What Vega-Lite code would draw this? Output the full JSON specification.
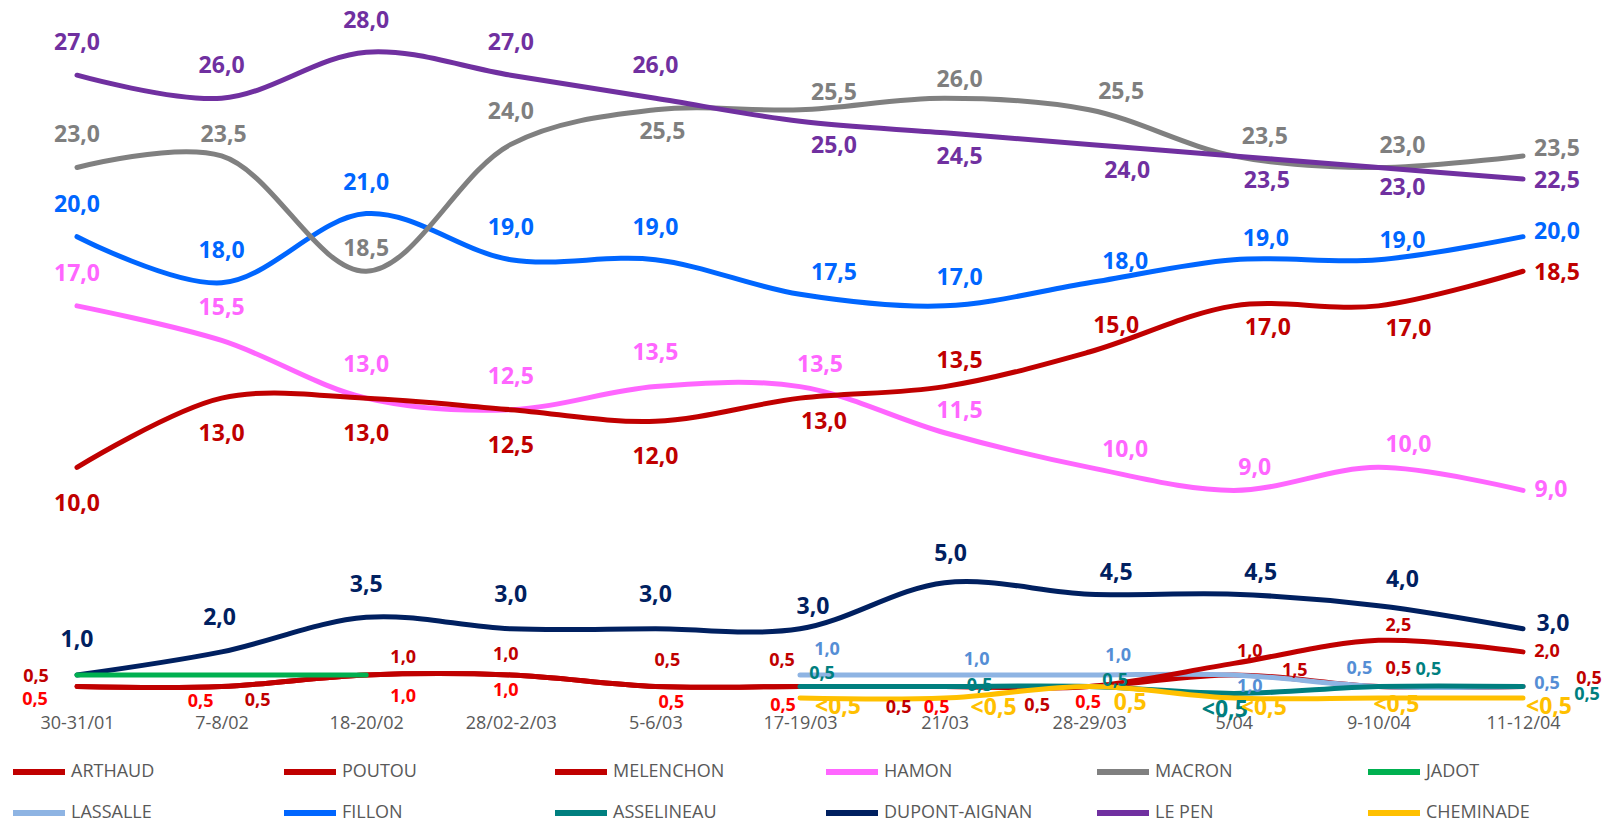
{
  "$schema": "https://vega.github.io/schema/vega-lite/v6.json",
  "width": 1600,
  "height": 692,
  "autosize": {"type": "none"},
  "padding": {"left": 0, "right": 14, "top": 6, "bottom": 120},
  "background": "white",
  "config": {"view": {"stroke": null}, "font": "Open Sans"},
  "data": {"values": [
    {"date": "30-31/01", "serie": "FILLON", "value": 20, "label": "20,0"},
    {"date": "7-8/02", "serie": "FILLON", "value": 18, "label": "18,0"},
    {"date": "18-20/02", "serie": "FILLON", "value": 21, "label": "21,0"},
    {"date": "28/02-2/03", "serie": "FILLON", "value": 19, "label": "19,0"},
    {"date": "5-6/03", "serie": "FILLON", "value": 19, "label": "19,0"},
    {"date": "17-19/03", "serie": "FILLON", "value": 17.5, "label": "17,5"},
    {"date": "21/03", "serie": "FILLON", "value": 17, "label": "17,0"},
    {"date": "28-29/03", "serie": "FILLON", "value": 18, "label": "18,0"},
    {"date": "5/04", "serie": "FILLON", "value": 19, "label": "19,0"},
    {"date": "9-10/04", "serie": "FILLON", "value": 19, "label": "19,0"},
    {"date": "11-12/04", "serie": "FILLON", "value": 20, "label": "20,0"},

    {"date": "30-31/01", "serie": "MACRON", "value": 23, "label": "23,0"},
    {"date": "7-8/02", "serie": "MACRON", "value": 23.5, "label": "23,5"},
    {"date": "18-20/02", "serie": "MACRON", "value": 18.5, "label": "18,5"},
    {"date": "28/02-2/03", "serie": "MACRON", "value": 24, "label": "24,0"},
    {"date": "5-6/03", "serie": "MACRON", "value": 25.5, "label": "25,5"},
    {"date": "17-19/03", "serie": "MACRON", "value": 25.5, "label": "25,5"},
    {"date": "21/03", "serie": "MACRON", "value": 26, "label": "26,0"},
    {"date": "28-29/03", "serie": "MACRON", "value": 25.5, "label": "25,5"},
    {"date": "5/04", "serie": "MACRON", "value": 23.5, "label": "23,5"},
    {"date": "9-10/04", "serie": "MACRON", "value": 23, "label": "23,0"},
    {"date": "11-12/04", "serie": "MACRON", "value": 23.5, "label": "23,5"},

    {"date": "30-31/01", "serie": "LE PEN", "value": 27, "label": "27,0"},
    {"date": "7-8/02", "serie": "LE PEN", "value": 26, "label": "26,0"},
    {"date": "18-20/02", "serie": "LE PEN", "value": 28, "label": "28,0"},
    {"date": "28/02-2/03", "serie": "LE PEN", "value": 27, "label": "27,0"},
    {"date": "5-6/03", "serie": "LE PEN", "value": 26, "label": "26,0"},
    {"date": "17-19/03", "serie": "LE PEN", "value": 25, "label": "25,0"},
    {"date": "21/03", "serie": "LE PEN", "value": 24.5, "label": "24,5"},
    {"date": "28-29/03", "serie": "LE PEN", "value": 24, "label": "24,0"},
    {"date": "5/04", "serie": "LE PEN", "value": 23.5, "label": "23,5"},
    {"date": "9-10/04", "serie": "LE PEN", "value": 23, "label": "23,0"},
    {"date": "11-12/04", "serie": "LE PEN", "value": 22.5, "label": "22,5"},

    {"date": "30-31/01", "serie": "HAMON", "value": 17, "label": "17,0"},
    {"date": "7-8/02", "serie": "HAMON", "value": 15.5, "label": "15,5"},
    {"date": "18-20/02", "serie": "HAMON", "value": 13, "label": "13,0"},
    {"date": "28/02-2/03", "serie": "HAMON", "value": 12.5, "label": "12,5"},
    {"date": "5-6/03", "serie": "HAMON", "value": 13.5, "label": "13,5"},
    {"date": "17-19/03", "serie": "HAMON", "value": 13.5, "label": "13,5"},
    {"date": "21/03", "serie": "HAMON", "value": 11.5, "label": "11,5"},
    {"date": "28-29/03", "serie": "HAMON", "value": 10, "label": "10,0"},
    {"date": "5/04", "serie": "HAMON", "value": 9, "label": "9,0"},
    {"date": "9-10/04", "serie": "HAMON", "value": 10, "label": "10,0"},
    {"date": "11-12/04", "serie": "HAMON", "value": 9, "label": "9,0"},

    {"date": "30-31/01", "serie": "MELENCHON", "value": 10, "label": "10,0"},
    {"date": "7-8/02", "serie": "MELENCHON", "value": 13, "label": "13,0"},
    {"date": "18-20/02", "serie": "MELENCHON", "value": 13, "label": "13,0"},
    {"date": "28/02-2/03", "serie": "MELENCHON", "value": 12.5, "label": "12,5"},
    {"date": "5-6/03", "serie": "MELENCHON", "value": 12, "label": "12,0"},
    {"date": "17-19/03", "serie": "MELENCHON", "value": 13, "label": "13,0"},
    {"date": "21/03", "serie": "MELENCHON", "value": 13.5, "label": "13,5"},
    {"date": "28-29/03", "serie": "MELENCHON", "value": 15, "label": "15,0"},
    {"date": "5/04", "serie": "MELENCHON", "value": 17, "label": "17,0"},
    {"date": "9-10/04", "serie": "MELENCHON", "value": 17, "label": "17,0"},
    {"date": "11-12/04", "serie": "MELENCHON", "value": 18.5, "label": "18,5"},

    {"date": "30-31/01", "serie": "DUPONT-AIGNAN", "value": 1, "label": "1,0"},
    {"date": "7-8/02", "serie": "DUPONT-AIGNAN", "value": 2, "label": "2,0"},
    {"date": "18-20/02", "serie": "DUPONT-AIGNAN", "value": 3.5, "label": "3,5"},
    {"date": "28/02-2/03", "serie": "DUPONT-AIGNAN", "value": 3, "label": "3,0"},
    {"date": "5-6/03", "serie": "DUPONT-AIGNAN", "value": 3, "label": "3,0"},
    {"date": "17-19/03", "serie": "DUPONT-AIGNAN", "value": 3, "label": "3,0"},
    {"date": "21/03", "serie": "DUPONT-AIGNAN", "value": 5, "label": "5,0"},
    {"date": "28-29/03", "serie": "DUPONT-AIGNAN", "value": 4.5, "label": "4,5"},
    {"date": "5/04", "serie": "DUPONT-AIGNAN", "value": 4.5, "label": "4,5"},
    {"date": "9-10/04", "serie": "DUPONT-AIGNAN", "value": 4, "label": "4,0"},
    {"date": "11-12/04", "serie": "DUPONT-AIGNAN", "value": 3, "label": "3,0"},

    {"date": "30-31/01", "serie": "ARTHAUD", "value": 0.5, "label": "0,5"},
    {"date": "7-8/02", "serie": "ARTHAUD", "value": 0.5, "label": "0,5"},
    {"date": "18-20/02", "serie": "ARTHAUD", "value": 1, "label": "1,0"},
    {"date": "28/02-2/03", "serie": "ARTHAUD", "value": 1, "label": "1,0"},
    {"date": "5-6/03", "serie": "ARTHAUD", "value": 0.5, "label": "0,5"},
    {"date": "17-19/03", "serie": "ARTHAUD", "value": 0.5, "label": "0,5"},
    {"date": "21/03", "serie": "ARTHAUD", "value": 0.5, "label": "0,5"},
    {"date": "28-29/03", "serie": "ARTHAUD", "value": 0.5, "label": "0,5"},
    {"date": "5/04", "serie": "ARTHAUD", "value": 1, "label": "1,0"},
    {"date": "9-10/04", "serie": "ARTHAUD", "value": 0.5, "label": "0,5"},
    {"date": "11-12/04", "serie": "ARTHAUD", "value": 0.5, "label": "0,5"},

    {"date": "17-19/03", "serie": "LASSALLE", "value": 1, "label": "1,0"},
    {"date": "21/03", "serie": "LASSALLE", "value": 1, "label": "1,0"},
    {"date": "28-29/03", "serie": "LASSALLE", "value": 1, "label": "1,0"},
    {"date": "5/04", "serie": "LASSALLE", "value": 1, "label": "1,0"},
    {"date": "9-10/04", "serie": "LASSALLE", "value": 0.5, "label": "0,5"},
    {"date": "11-12/04", "serie": "LASSALLE", "value": 0.5, "label": "0,5"},

    {"date": "30-31/01", "serie": "POUTOU", "value": 0.5, "label": "0,5"},
    {"date": "7-8/02", "serie": "POUTOU", "value": 0.5, "label": "0,5"},
    {"date": "18-20/02", "serie": "POUTOU", "value": 1, "label": "1,0"},
    {"date": "28/02-2/03", "serie": "POUTOU", "value": 1, "label": "1,0"},
    {"date": "5-6/03", "serie": "POUTOU", "value": 0.5, "label": "0,5"},
    {"date": "17-19/03", "serie": "POUTOU", "value": 0.5, "label": "0,5"},
    {"date": "21/03", "serie": "POUTOU", "value": 0.5, "label": "0,5"},
    {"date": "28-29/03", "serie": "POUTOU", "value": 0.5, "label": "0,5"},
    {"date": "5/04", "serie": "POUTOU", "value": 1.5, "label": "1,5"},
    {"date": "9-10/04", "serie": "POUTOU", "value": 2.5, "label": "2,5"},
    {"date": "11-12/04", "serie": "POUTOU", "value": 2, "label": "2,0"},

    {"date": "17-19/03", "serie": "ASSELINEAU", "value": 0.5, "label": "0,5"},
    {"date": "21/03", "serie": "ASSELINEAU", "value": 0.5, "label": "0,5"},
    {"date": "28-29/03", "serie": "ASSELINEAU", "value": 0.5, "label": "0,5"},
    {"date": "5/04", "serie": "ASSELINEAU", "value": 0.2, "label": "<0,5"},
    {"date": "9-10/04", "serie": "ASSELINEAU", "value": 0.5, "label": "0,5"},
    {"date": "11-12/04", "serie": "ASSELINEAU", "value": 0.5, "label": "0,5"},

    {"date": "17-19/03", "serie": "CHEMINADE", "value": 0, "label": "<0,5"},
    {"date": "21/03", "serie": "CHEMINADE", "value": 0, "label": "<0,5"},
    {"date": "28-29/03", "serie": "CHEMINADE", "value": 0.5, "label": "0,5"},
    {"date": "5/04", "serie": "CHEMINADE", "value": 0, "label": "<0,5"},
    {"date": "9-10/04", "serie": "CHEMINADE", "value": 0, "label": "<0,5"},
    {"date": "11-12/04", "serie": "CHEMINADE", "value": 0, "label": "<0,5"},

    {"date": "30-31/01", "serie": "JADOT", "value": 1, "label": ""},
    {"date": "7-8/02", "serie": "JADOT", "value": 1, "label": ""},
    {"date": "18-20/02", "serie": "JADOT", "value": 1, "label": ""}
  ]},
  "encoding": {
    "x": {
      "field": "date", "type": "ordinal",
      "sort": ["30-31/01", "7-8/02", "18-20/02", "28/02-2/03", "5-6/03", "17-19/03", "21/03", "28-29/03", "5/04", "9-10/04", "11-12/04"],
      "scale": {"type": "point", "padding": 0.5325},
      "axis": {"title": null, "domain": false, "ticks": false, "grid": false, "labelAngle": 0, "labelFontSize": 18, "labelColor": "#595959", "labelFont": "Open Sans", "labelPadding": 16}
    },
    "y": {"field": "value", "type": "quantitative", "scale": {"domain": [0, 30]}, "axis": null}
  },
  "layer": [
    {
      "mark": {"type": "line", "interpolate": "catmull-rom", "strokeWidth": 5, "strokeCap": "round", "strokeJoin": "round"},
      "encoding": {
        "color": {
          "field": "serie", "type": "nominal",
          "scale": {
            "domain": ["ARTHAUD", "POUTOU", "MELENCHON", "HAMON", "MACRON", "JADOT", "LASSALLE", "FILLON", "ASSELINEAU", "DUPONT-AIGNAN", "LE PEN", "CHEMINADE"],
            "range": ["#C00000", "#C00000", "#C00000", "#FF66FF", "#808080", "#00B050", "#8EB4E3", "#0066FF", "#007F7F", "#002060", "#7030A0", "#FFC000"]
          },
          "legend": {
            "title": null, "orient": "none", "legendX": 10, "legendY": 737,
            "direction": "horizontal", "columns": 6, "gridAlign": "all", "columnPadding": 52, "rowPadding": -36,
            "symbolType": "stroke", "symbolSize": 2704, "symbolStrokeWidth": 6,
            "labelFontSize": 18, "labelColor": "#595959", "labelFont": "Open Sans", "labelOffset": 3, "labelLimit": 300
          }
        }
      }
    },
    {
      "transform": [{"filter": "datum.serie != 'JADOT'"}],
      "mark": {
        "type": "text", "fontWeight": "bold", "font": "Open Sans", "align": "center", "baseline": "middle",
        "fontSize": {"expr": "indexof(['POUTOU','ARTHAUD','LASSALLE','ASSELINEAU'], datum.serie) >= 0 && indexof(datum.label, '<') < 0 ? 18 : 23"},
        "dx": {"expr": "[[0,0,0,0,0,34,15,38,33,24,34],[0,2,0,0,7,34,15,32,31,24,34],[0,0,0,0,0,34,15,36,32,24,34],[0,0,0,0,0,20,15,36,21,30,28],[0,0,0,0,0,24,15,27,34,30,34],[0,-2,0,0,0,13,6,27,27,24,30],[-41,36,37,-5,12,-18,-46,-52,61,20,24],[-42,-21,37,-5,16,-17,-8,-1,16,20,66],[0,0,0,0,0,27,32,29,16,-19,24],[0,0,0,0,0,22,35,26,-9,50,64],[0,0,0,0,0,38,49,41,30,18,26]][indexof(['LE PEN','MACRON','FILLON','HAMON','MELENCHON','DUPONT-AIGNAN','POUTOU','ARTHAUD','LASSALLE','ASSELINEAU','CHEMINADE'], datum.serie)][indexof(['30-31/01','7-8/02','18-20/02','28/02-2/03','5-6/03','17-19/03','21/03','28-29/03','5/04','9-10/04','11-12/04'], datum.date)]"},
        "dy": {"expr": "[[-32,-32,-31,-32,-32,25,24,27,25,21,2],[-32,-21,-22,-32,22,-17,-18,-18,-19,-21,-7],[-32,-32,-31,-32,-32,-21,-28,-21,-21,-19,-5],[-32,-32,-33,-33,-34,-22,-22,-17,-22,-22,0],[37,36,36,36,36,24,-26,-26,22,23,2],[-35,-34,-32,-34,-34,-22,-29,-21,-21,-26,-5],[-9,15,-17,-20,-25,-25,22,20,8,-14,0],[14,16,22,16,17,20,22,17,-23,-17,-7],[0,0,0,0,0,-25,-15,-19,12,-17,-2],[0,0,0,0,0,-12,0,-5,17,-16,9],[0,0,0,0,0,9,10,17,10,7,9]][indexof(['LE PEN','MACRON','FILLON','HAMON','MELENCHON','DUPONT-AIGNAN','POUTOU','ARTHAUD','LASSALLE','ASSELINEAU','CHEMINADE'], datum.serie)][indexof(['30-31/01','7-8/02','18-20/02','28/02-2/03','5-6/03','17-19/03','21/03','28-29/03','5/04','9-10/04','11-12/04'], datum.date)]"}
      },
      "encoding": {
        "text": {"field": "label", "type": "nominal"},
        "color": {
          "condition": {"test": "datum.serie == 'ARTHAUD' && indexof(['30-31/01','7-8/02','18-20/02','28/02-2/03','5-6/03','17-19/03','21/03','28-29/03'], datum.date) >= 0", "value": "#FF0000"},
          "field": "serie", "type": "nominal",
          "scale": {
            "domain": ["LE PEN", "MACRON", "FILLON", "HAMON", "MELENCHON", "DUPONT-AIGNAN", "POUTOU", "ARTHAUD", "LASSALLE", "ASSELINEAU", "CHEMINADE"],
            "range": ["#7030A0", "#7F7F7F", "#0066FF", "#FF66FF", "#C00000", "#002060", "#C00000", "#C00000", "#558ED5", "#007F7F", "#FFC000"]
          },
          "legend": null
        }
      }
    }
  ],
  "resolve": {"scale": {"color": "independent"}}
}
